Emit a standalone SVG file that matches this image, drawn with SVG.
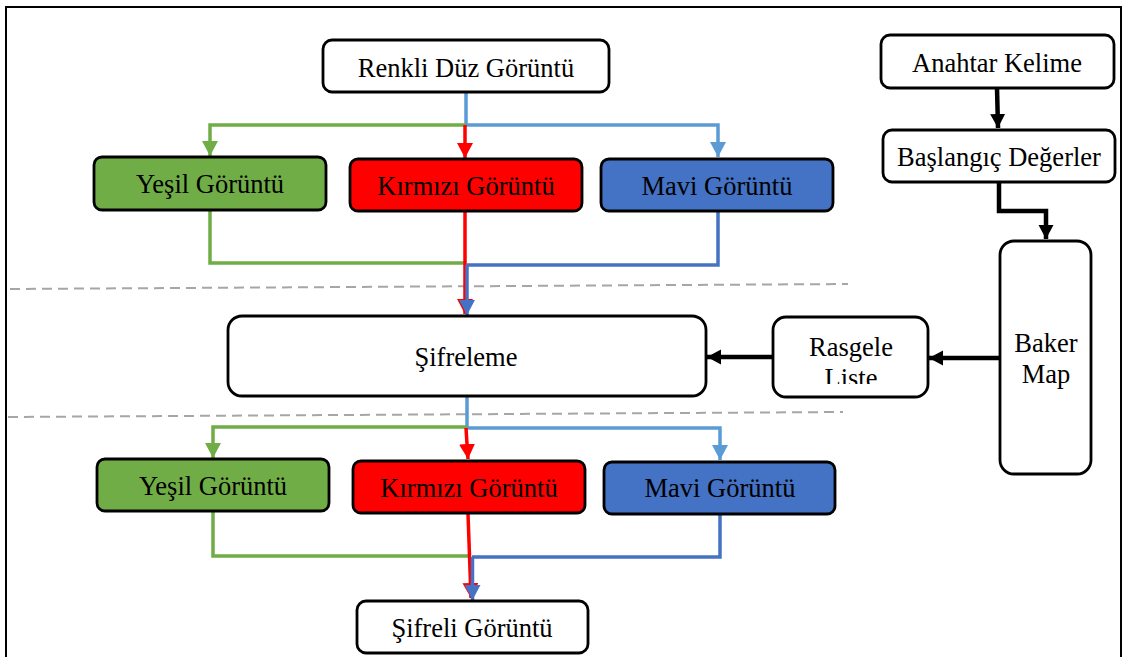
<svg xmlns="http://www.w3.org/2000/svg" width="1122" height="657" viewBox="0 0 1122 657">
  <style>
    .box { stroke: #000; stroke-width: 2.8; }
    .white { fill: #fff; }
    .green { fill: #70AD47; }
    .red { fill: #FF0000; }
    .blue { fill: #4472C4; }
    .c { fill: none; stroke-width: 3.5; }
    .cg { stroke: #70AD47; }
    .cr { stroke: #FF0000; }
    .cb { stroke: #4472C4; }
    .cl { stroke: #5B9BD5; }
    .ck { fill: none; stroke: #000; stroke-width: 4.5; }
    .dash { stroke: #A6A6A6; stroke-width: 2; stroke-dasharray: 10 6; fill: none; }
  </style>
  <defs>
    <marker id="ag" markerUnits="userSpaceOnUse" markerWidth="16" markerHeight="16" refX="15" refY="8" orient="auto">
      <path d="M0,0 L15,8 L0,16 z" fill="#70AD47"/>
    </marker>
    <marker id="ar" markerUnits="userSpaceOnUse" markerWidth="16" markerHeight="16" refX="15" refY="8" orient="auto">
      <path d="M0,0 L15,8 L0,16 z" fill="#FF0000"/>
    </marker>
    <marker id="ab" markerUnits="userSpaceOnUse" markerWidth="16" markerHeight="16" refX="15" refY="8" orient="auto">
      <path d="M0,0 L15,8 L0,16 z" fill="#4472C4"/>
    </marker>
    <marker id="al" markerUnits="userSpaceOnUse" markerWidth="16" markerHeight="16" refX="15" refY="8" orient="auto">
      <path d="M0,0 L15,8 L0,16 z" fill="#5B9BD5"/>
    </marker>
    <marker id="ak" markerUnits="userSpaceOnUse" markerWidth="16" markerHeight="16" refX="14" refY="7.5" orient="auto">
      <path d="M0,0 L14,7.5 L0,15 z" fill="#000"/>
    </marker>
    <clipPath id="listeClip">
      <rect x="770" y="300" width="170" height="84"/>
    </clipPath>
  </defs>

  <rect width="1122" height="657" fill="#fff"/>
  <!-- frame -->
  <rect x="6" y="7" width="1115" height="700" fill="none" stroke="#000" stroke-width="2"/>

  <!-- stage separators -->
  <line class="dash" x1="10" y1="289" x2="848" y2="284"/>
  <line class="dash" x1="8" y1="417" x2="843" y2="412"/>

  <g id="connectors">
    <!-- split of the plain image into channels -->
    <polyline class="c cl" points="466,93 466,125 718,125 718,157" marker-end="url(#al)"/>
    <polyline class="c cg" points="466,125 210,125 210,156" marker-end="url(#ag)"/>
    <line class="c cr" x1="465" y1="125" x2="465" y2="158" marker-end="url(#ar)"/>
    <!-- channels into encryption -->
    <polyline class="c cg" points="210,211 210,263 465,263"/>
    <polyline class="c cb" points="718,212 718,265 467,265"/>
    <line class="c cr" x1="465" y1="212" x2="465" y2="314" marker-end="url(#ar)"/>
    <line class="c cb" x1="467" y1="265" x2="467" y2="315" marker-end="url(#ab)"/>
    <!-- encryption output split -->
    <polyline class="c cl" points="467,397 467,428 720,428 720,460" marker-end="url(#al)"/>
    <polyline class="c cg" points="467,427 213,427 213,458" marker-end="url(#ag)"/>
    <line class="c cr" x1="466" y1="428" x2="468" y2="459" marker-end="url(#ar)"/>
    <!-- channels into the encrypted image -->
    <polyline class="c cg" points="213,512 213,556 470,556"/>
    <polyline class="c cb" points="720,514 720,557 472,557"/>
    <line class="c cr" x1="468" y1="514" x2="471" y2="598" marker-end="url(#ar)"/>
    <line class="c cb" x1="472.5" y1="557" x2="472.5" y2="600" marker-end="url(#ab)"/>
    <!-- key chain -->
    <line class="ck" x1="997" y1="88" x2="998" y2="128" marker-end="url(#ak)"/>
    <polyline class="ck" points="999,183 999,211 1046,211 1046,239" marker-end="url(#ak)"/>
    <line class="ck" x1="1000" y1="358" x2="929" y2="358" marker-end="url(#ak)"/>
    <line class="ck" x1="773" y1="357" x2="707" y2="357" marker-end="url(#ak)"/>
  </g>

  <g font-family="'Liberation Serif', 'Times New Roman', serif" font-size="26.5" fill="#000" text-anchor="middle">
    <g id="renkli">
      <rect class="box white" x="323" y="40" width="286" height="52" rx="9"/>
      <text x="466" y="77">Renkli Düz Görüntü</text>
    </g>
    <g id="yesil1">
      <rect class="box green" x="94" y="157" width="232" height="53" rx="8"/>
      <text x="210" y="193">Yeşil Görüntü</text>
    </g>
    <g id="kirmizi1">
      <rect class="box red" x="350" y="159" width="232" height="52" rx="8"/>
      <text x="466" y="195">Kırmızı Görüntü</text>
    </g>
    <g id="mavi1">
      <rect class="box blue" x="601" y="159" width="232" height="52" rx="8"/>
      <text x="717" y="195">Mavi Görüntü</text>
    </g>
    <g id="sifreleme">
      <rect class="box white" x="228" y="316" width="478" height="80" rx="14"/>
      <text x="466" y="366">Şifreleme</text>
    </g>
    <g id="yesil2">
      <rect class="box green" x="97" y="459" width="232" height="52" rx="8"/>
      <text x="213" y="495">Yeşil Görüntü</text>
    </g>
    <g id="kirmizi2">
      <rect class="box red" x="353" y="461" width="232" height="52" rx="8"/>
      <text x="469" y="497">Kırmızı Görüntü</text>
    </g>
    <g id="mavi2">
      <rect class="box blue" x="604" y="462" width="231" height="52" rx="8"/>
      <text x="720" y="497">Mavi Görüntü</text>
    </g>
    <g id="sifreli">
      <rect class="box white" x="357" y="601" width="231" height="52" rx="9"/>
      <text x="472" y="637">Şifreli Görüntü</text>
    </g>
    <g id="anahtar">
      <rect class="box white" x="881" y="35" width="233" height="53" rx="9"/>
      <text x="997" y="72">Anahtar Kelime</text>
    </g>
    <g id="baslangic">
      <rect class="box white" x="883" y="130" width="232" height="52" rx="9"/>
      <text x="999" y="166">Başlangıç Değerler</text>
    </g>
    <g id="baker">
      <rect class="box white" x="1000" y="241" width="91" height="233" rx="14"/>
      <text x="1046" y="352">Baker</text>
      <text x="1046" y="383">Map</text>
    </g>
    <g id="rasgele">
      <rect class="box white" x="773" y="317" width="155" height="80" rx="13"/>
      <g clip-path="url(#listeClip)">
        <text x="851" y="356">Rasgele</text>
        <text x="851" y="387">Liste</text>
      </g>
    </g>
  </g>
</svg>
